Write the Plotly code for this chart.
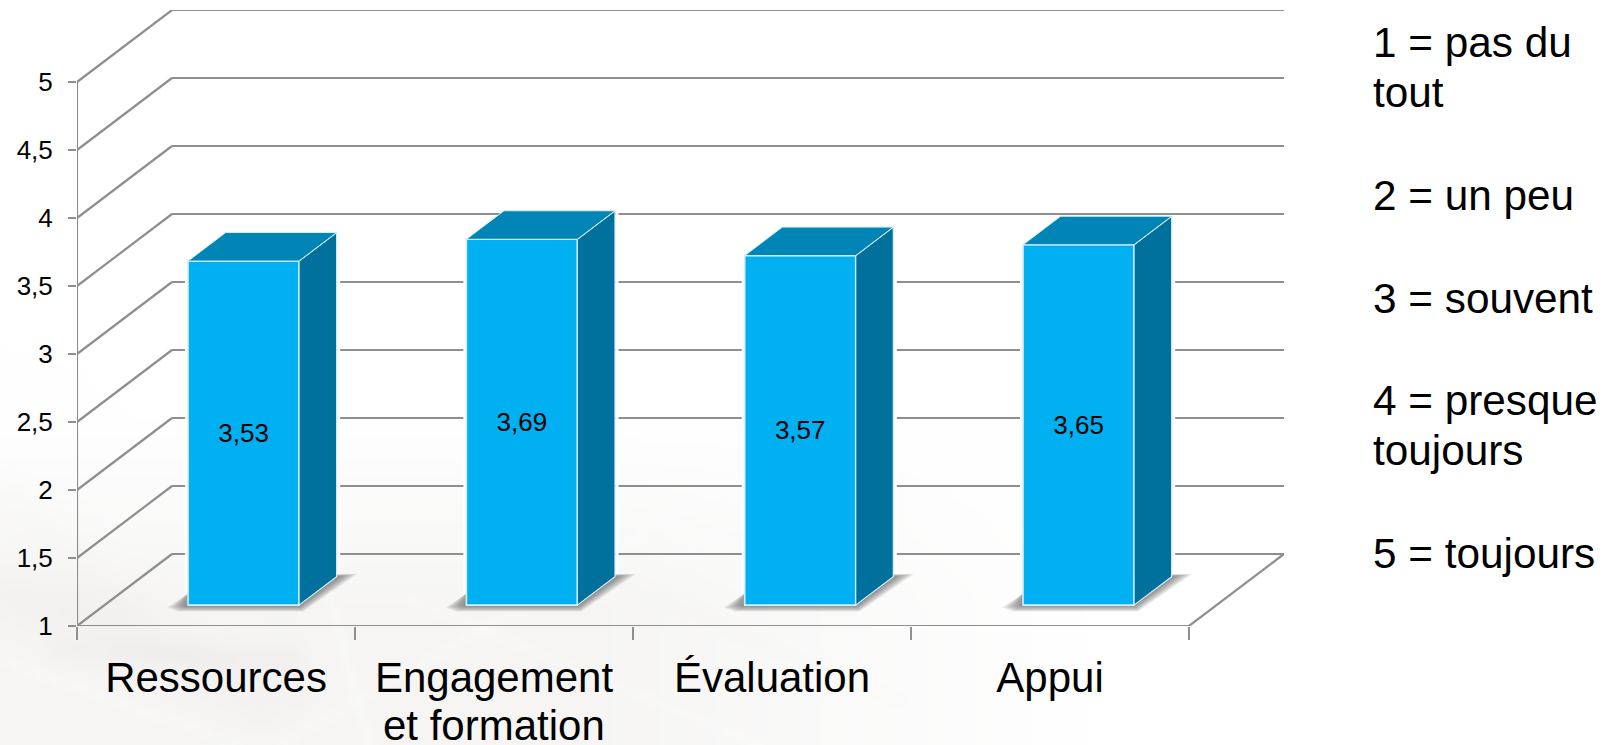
import base64, struct, zlib
import numpy as np
import plotly.graph_objects as go

categories = ["Ressources", "Engagement", "Évaluation", "Appui"]
category_second_line = ["", "et formation", "", ""]
values = [3.53, 3.69, 3.57, 3.65]
y_ticks = [1, 1.5, 2, 2.5, 3, 3.5, 4, 4.5, 5]
key_lines = ["1 = pas du", "tout", "2 = un peu", "3 = souvent", "4 = presque", "toujours", "5 = toujours"]
key_baselines = [56, 107, 209, 312, 414, 464.5, 567.5]

W, H = 1614, 745
ML, MR, MT, MB = 77, 330, 10, 119
PX_X, PX_Y = 278.0, 136.0
BAR_STEP = 278.33 / PX_X
DX, DY = 95 / PX_X, 72 / PX_Y
D0, D1 = 0.29, 0.686
BAR_W = 111 / PX_X
PW, PH = W - ML - MR, H - MT - MB
GRID = "#8f8f8f"
FONT = "Liberation Sans, Arial, sans-serif"


def background_png():
    w, h = 323, 149
    xs = (np.arange(w) + 0.5) * W / w
    ys = (np.arange(h) + 0.5) * H / h
    X, Y = np.meshgrid(xs, ys)
    d = 8.5 * np.clip((Y - 420) / 190, 0, 1) * np.clip((1080 - X) / 480, 0, 1)
    def streak(x0, y0, x1, y1, amp, sig):
        vx, vy = x1 - x0, y1 - y0
        t = np.clip(((X - x0) * vx + (Y - y0) * vy) / (vx * vx + vy * vy), 0, 1)
        dist = np.hypot(X - (x0 + t * vx), Y - (y0 + t * vy))
        return amp * np.exp(-(dist / sig) ** 2)
    d += streak(10, 590, 260, 690, 3.5, 34) + streak(60, 650, 290, 660, 3, 12)
    d += streak(0, 500, 120, 600, 1.5, 26) + streak(250, 520, 300, 690, 1.5, 16)
    d -= streak(320, 560, 370, 745, 2.2, 5) + streak(280, 745, 640, 540, 1.8, 5)
    d -= streak(410, 600, 760, 745, 1.8, 5) + streak(0, 660, 240, 745, 1.8, 6)
    d += streak(560, 560, 900, 700, 1, 6)
    v = np.clip(255 - np.clip(d, 0, 16), 0, 255)
    rgb = np.stack([v, v - d * 0.08, v - d * 0.2], axis=-1).astype(np.uint8)
    raw = b"".join(b"\x00" + rgb[r].tobytes() for r in range(h))
    def chunk(t, b):
        return struct.pack(">I", len(b)) + t + b + struct.pack(">I", zlib.crc32(t + b) & 0xffffffff)
    png = b"\x89PNG\r\n\x1a\n" + chunk(b"IHDR", struct.pack(">IIBBBBB", w, h, 8, 2, 0, 0, 0)) \
        + chunk(b"IDAT", zlib.compress(raw)) + chunk(b"IEND", b"")
    return "data:image/png;base64," + base64.b64encode(png).decode()


def line_shape(x0, y0, x1, y1, color=GRID, width=2.2):
    return dict(type="line", xref="x", yref="y", x0=x0, y0=y0, x1=x1, y1=y1,
                line=dict(color=color, width=width), layer="below")


def path_shape(pts, fill, opacity):
    p = "M " + " L ".join(f"{a:.5f},{b:.5f}" for a, b in pts) + " Z"
    return dict(type="path", xref="x", yref="y", path=p, fillcolor=fill, opacity=opacity,
                line=dict(width=0), layer="below")


n = len(categories)
shapes = []
# back wall grid and left wall diagonals
for v in y_ticks:
    shapes.append(line_shape(0, v, DX, v + DY))
    shapes.append(line_shape(DX, v + DY, n + DX, v + DY))
# floor and front axes
shapes.append(line_shape(0, 1, 0, 5))
shapes.append(line_shape(0, 1, n, 1))
shapes.append(line_shape(n, 1, n + DX, 1 + DY))

centers = [0.5 + D0 * DX + i * BAR_STEP for i in range(n)]
floor = 1 + D0 * DY
ddx, ddy = (D1 - D0) * DX, (D1 - D0) * DY
px, py = 1 / PX_X, 1 / PX_Y

for c, v in zip(centers, values):
    l, r = c - BAR_W / 2, c + BAR_W / 2
    top = v + D0 * DY
    # small clear halo where the grid stops at the bar
    shapes.append(line_shape(l - 1.5 * px, floor, l - 1.5 * px, top, "white", 3))
    shapes.append(line_shape(r + ddx + 2 * px, floor + ddy, r + ddx + 2 * px, top + ddy, "white", 3))
    # soft shadow on the floor
    for k in range(10, 0, -1):
        t = k / 10
        pts = [
            (l + 1 * px, floor + 15 * py * (1 - 0.2 * t)),
            (l - 21 * t * px, floor - 2.5 * t * py),
            (l - 10 * t * px, floor - 6.5 * t * py),
            (r + 4 * t * px, floor - 6.5 * t * py),
            (r + ddx + 21 * t * px, floor + ddy + 2.5 * t * py),
            (r + ddx, floor + ddy + 2.5 * t * py),
            (r + ddx, floor + ddy),
            (r, floor),
        ]
        shapes.append(path_shape(pts, "#3a3a3a", 0.08))

fig = go.Figure()
fig.add_trace(go.Bar(
    x=centers, y=[v - 1 for v in values], base=floor, width=BAR_W,
    marker=dict(color="#00b0f0", line=dict(color="#d5eef9", width=1.6)),
    text=[f"{v:.2f}".replace(".", ",") for v in values],
    textposition="inside", insidetextanchor="middle", textangle=0, constraintext="none",
    insidetextfont=dict(family=FONT, size=26, color="black"),
    showlegend=False, hoverinfo="skip",
))
for c, v in zip(centers, values):
    l, r = c - BAR_W / 2, c + BAR_W / 2
    top = v + D0 * DY
    fig.add_trace(go.Scatter(
        x=[r, r + ddx, r + ddx, r, r], y=[top, top + ddy, floor + ddy, floor, top],
        mode="lines", fill="toself", fillcolor="#00709c",
        line=dict(color="#d5eef9", width=1.2), showlegend=False, hoverinfo="skip"))
    fig.add_trace(go.Scatter(
        x=[l, l + ddx, r + ddx, r, l], y=[top, top + ddy, top + ddy, top, top],
        mode="lines", fill="toself", fillcolor="#0085b6",
        line=dict(color="#d5eef9", width=1.0), showlegend=False, hoverinfo="skip"))

annotations = []
for i, t in enumerate(category_second_line):
    if t:
        annotations.append(dict(x=i + 0.5, y=1, xref="x", yref="y", text=t, showarrow=False,
                                xanchor="center", yanchor="top", yshift=-(738 - 626 - 38),
                                font=dict(family=FONT, size=42, color="black")))
for t, b in zip(key_lines, key_baselines):
    annotations.append(dict(x=(1371 - ML) / PW, y=(H - MB - (b - 14)) / PH, xref="paper", yref="paper",
                            text=t, showarrow=False, xanchor="left", yanchor="middle",
                            font=dict(family=FONT, size=42.3, color="black")))

fig.update_layout(
    width=W, height=H, margin=dict(l=ML, r=MR, t=MT, b=MB, pad=0), autosize=False,
    paper_bgcolor="rgba(0,0,0,0)", plot_bgcolor="rgba(0,0,0,0)",
    showlegend=False, barmode="overlay", shapes=shapes, annotations=annotations,
    images=[dict(source=background_png(), xref="paper", yref="paper",
                 x=-ML / PW, y=1 + MT / PH, sizex=W / PW, sizey=H / PH,
                 xanchor="left", yanchor="top", sizing="stretch", layer="below")],
    xaxis=dict(range=[0, PW / PX_X], showgrid=False, zeroline=False, showline=False,
               tickmode="array", tickvals=[i + 0.5 for i in range(n)], ticktext=categories,
               ticks="", ticklabelstandoff=23,
               tickfont=dict(family=FONT, size=42, color="black"),
               minor=dict(tickmode="array", tickvals=list(range(n + 1)), ticks="outside",
                          ticklen=13, tickwidth=1.6, tickcolor=GRID, showgrid=False)),
    yaxis=dict(range=[1, 1 + PH / PX_Y], showgrid=False, zeroline=False, showline=False,
               tickmode="array", tickvals=y_ticks,
               ticktext=[str(v).replace(".", ",") for v in y_ticks],
               ticks="outside", ticklen=8, tickwidth=1.8, tickcolor=GRID,
               ticklabelstandoff=10,
               tickfont=dict(family=FONT, size=26, color="black")),
)

fig.write_html("out.html", config=dict(displayModeBar=False),
               post_script="document.body.style.margin='0';document.body.style.overflow='hidden';")
